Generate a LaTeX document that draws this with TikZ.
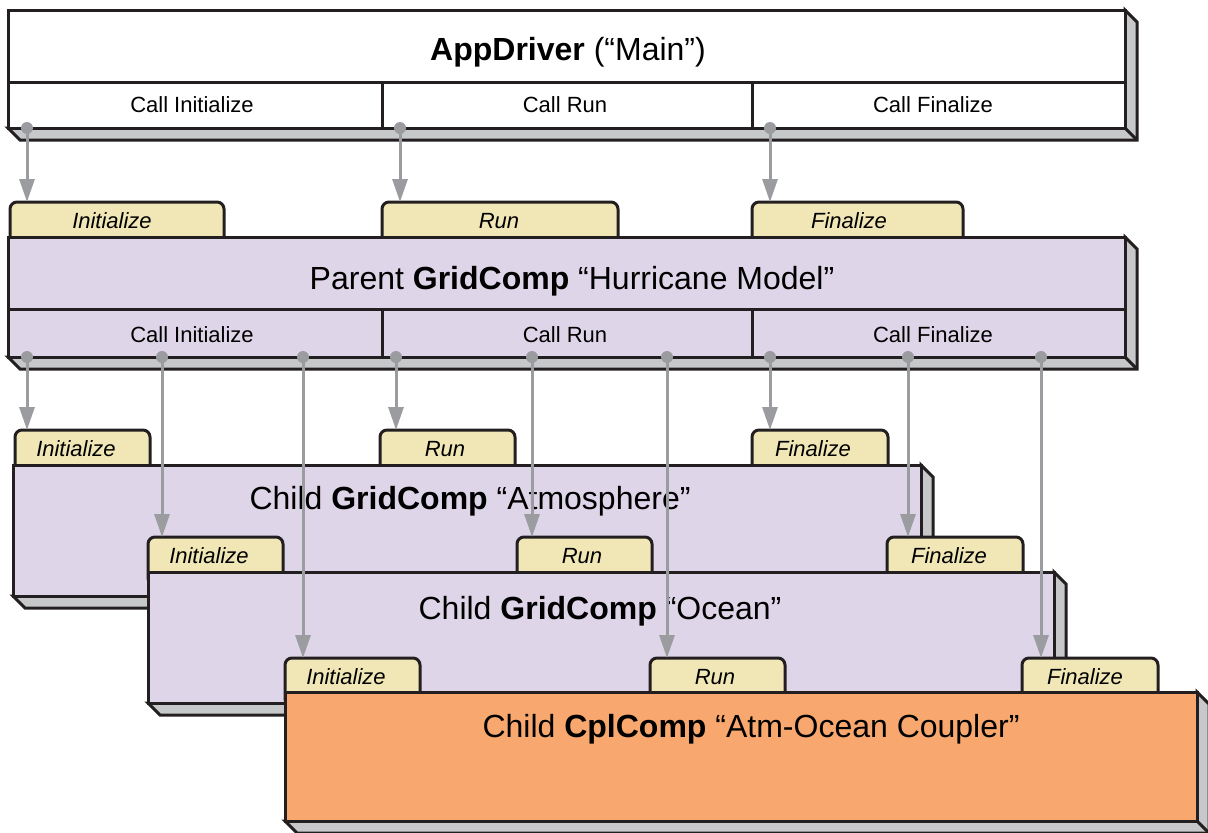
\documentclass[tikz,border=0pt]{standalone}
\usepackage{fontspec}
\setmainfont{Liberation Sans}
\usetikzlibrary{arrows.meta}
\definecolor{lav}{RGB}{222,213,232}
\definecolor{tabyel}{RGB}{241,231,182}
\definecolor{orng}{RGB}{248,168,110}
\definecolor{shd}{RGB}{199,200,202}
\definecolor{agray}{RGB}{155,156,160}
\definecolor{ink}{RGB}{35,31,32}
\tikzset{
  edge/.style={draw=ink,line width=3pt,line join=miter},
  shadowface/.style={edge,fill=shd},
  tabshape/.style={edge,fill=tabyel,rounded corners=7pt},
  big/.style={font=\fontsize{32}{38}\selectfont,anchor=base,inner sep=0pt},
  small/.style={font=\fontsize{22}{26}\selectfont,anchor=base,inner sep=0pt},
  tablbl/.style={font=\fontsize{22}{26}\selectfont\itshape,anchor=base,inner sep=0pt},
  conn/.style={draw=agray,line width=3pt,-{Triangle[width=15pt,length=23pt]}},
  dot/.style={fill=agray}
}
% box with 3D shadow: x1,y1,x2,y2,fill
\newcommand{\shadowbox}[5]{%
  \draw[shadowface] (#3,#2) -- (#3+12,#2+12) -- (#3+12,#4+12) -- (#1+12,#4+12) -- (#1,#4) -- (#3,#4) -- cycle;
  \draw[edge] (#3,#4) -- (#3+12,#4+12);
  \draw[edge,fill=#5] (#1,#2) rectangle (#3,#4);
}
\begin{document}
\begin{tikzpicture}[x=1pt,y=-1pt]
\useasboundingbox (0,0) rectangle (1208,833);
% ---------------- AppDriver
\shadowbox{8}{10}{1125}{128}{white}
\draw[edge] (8,82) -- (1125,82);
\draw[edge] (382,82) -- (382,128);
\draw[edge] (752,82) -- (752,128);
\node[big] (app) at (568,60) {\textbf{AppDriver} (“Main”)};
\node[small] (aci) at (192,112) {Call Initialize};
\node[small] (acr) at (565,112) {Call Run};
\node[small] (acf) at (933,112) {Call Finalize};
% ---------------- Parent tabs + box
\draw[tabshape] (10,202) rectangle (224,250);
\draw[tabshape] (382,202) rectangle (618,250);
\draw[tabshape] (752,202) rectangle (963,250);
\node[tablbl] (pti) at (112,228) {Initialize};
\node[tablbl] (ptr) at (499,228) {Run};
\node[tablbl] (ptf) at (849,228) {Finalize};
\shadowbox{8}{237}{1125}{357}{lav}
\draw[edge] (8,309) -- (1125,309);
\draw[edge] (382,309) -- (382,357);
\draw[edge] (752,309) -- (752,357);
\node[big] (par) at (572,289) {Parent \textbf{GridComp} “Hurricane Model”};
\node[small] (pci) at (192,342) {Call Initialize};
\node[small] (pcr) at (565,342) {Call Run};
\node[small] (pcf) at (933,342) {Call Finalize};
% ---------------- Atmosphere
\draw[tabshape] (15,430) rectangle (150,478);
\draw[tabshape] (380,430) rectangle (515,478);
\draw[tabshape] (752,430) rectangle (888,478);
\node[tablbl] (ati) at (76,456) {Initialize};
\node[tablbl] (atr) at (445,456) {Run};
\node[tablbl] (atf) at (813,456) {Finalize};
\shadowbox{13}{465}{921}{596}{lav}
\node[big] (atm) at (470,509) {Child \textbf{GridComp} “Atmosphere”};
% ---------------- Ocean
\draw[tabshape] (148,537) rectangle (283,585);
\draw[tabshape] (517,537) rectangle (652,585);
\draw[tabshape] (887,537) rectangle (1023,585);
\node[tablbl] (oti) at (209,563) {Initialize};
\node[tablbl] (otr) at (582,563) {Run};
\node[tablbl] (otf) at (949,563) {Finalize};
\shadowbox{148}{572}{1054}{703}{lav}
\node[big] (ocn) at (600,619) {Child \textbf{GridComp} “Ocean”};
% ---------------- Coupler
\draw[tabshape] (285,658) rectangle (420,706);
\draw[tabshape] (650,658) rectangle (785,706);
\draw[tabshape] (1022,658) rectangle (1158,706);
\node[tablbl] (cti) at (346,684) {Initialize};
\node[tablbl] (ctr) at (715,684) {Run};
\node[tablbl] (ctf) at (1085,684) {Finalize};
\shadowbox{285}{692}{1197}{821}{orng}
\node[big] (cpl) at (751,737) {Child \textbf{CplComp} “Atm-Ocean Coupler”};
% ---------------- connector coordinates
\coordinate (s1) at (27,128);  \coordinate (e1) at (27,202);
\coordinate (s2) at (400,128); \coordinate (e2) at (400,202);
\coordinate (s3) at (770,128); \coordinate (e3) at (770,202);
\foreach \x/\n in {27/a,162/b,303/c,396/d,532/e,667/f,770/g,908/h,1041/i}
  \coordinate (p\n) at (\x,357);
\coordinate (qa) at (27,430);   \coordinate (qd) at (396,430);  \coordinate (qg) at (770,430);
\coordinate (qb) at (162,537);  \coordinate (qe) at (532,537);  \coordinate (qh) at (908,537);
\coordinate (qc) at (303,658);  \coordinate (qf) at (667,658);  \coordinate (qi) at (1041,658);
% connectors
\foreach \n in {1,2,3} {
  \draw[conn] (s\n) -- (e\n);
  \fill[dot] (s\n) circle (6);
}
\foreach \n in {a,b,c,d,e,f,g,h,i} {
  \draw[conn] (p\n) -- (q\n);
  \fill[dot] (p\n) circle (6);
}
\end{tikzpicture}
\end{document}
